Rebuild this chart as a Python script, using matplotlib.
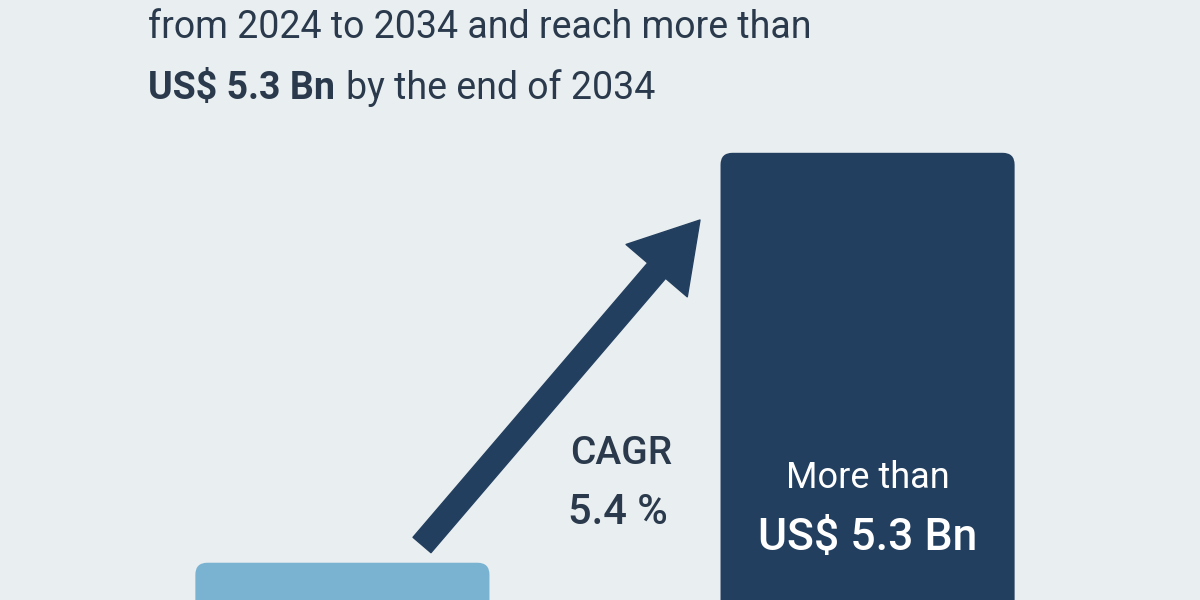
import matplotlib.pyplot as plt
from matplotlib.patches import FancyBboxPatch

plt.rcParams['font.family'] = ['Roboto', 'DejaVu Sans']

years = ['2024', '2034']
values = [3.1, 5.3]          # US$ Bn
bar_colors = ['#7ab3d2', '#233f5f']
cagr = 5.4

bg = '#e9eef0'
dark = '#2a3a4c'

fig = plt.figure(figsize=(12, 6), dpi=100, facecolor=bg)
ax = fig.add_axes([0, 0, 1, 1])
ax.set_facecolor(bg)
ax.set_xlim(-0.652, 1.633)
ax.set_ylim(2.90, 6.12)
ax.axis('off')

# keep rounded corners circular on screen
x_per_px = (1.633 + 0.652) / 1200
y_per_px = (6.12 - 2.90) / 600
w = 0.56
for i, (v, c) in enumerate(zip(values, bar_colors)):
    p = FancyBboxPatch((i - w / 2, 0), w, v,
                       boxstyle='round,pad=0,rounding_size=%f' % (12 * x_per_px),
                       mutation_aspect=y_per_px / x_per_px,
                       facecolor=c, edgecolor='none')
    ax.add_patch(p)

# title
fig.text(148 / 1200, 1 - 28 / 600, 'from 2024 to 2034 and reach more than',
         fontsize=27, color=dark, va='center', ha='left')
t1 = fig.text(148 / 1200, 1 - 88 / 600, 'US$ %.1f Bn' % values[1],
              fontsize=27, color=dark, va='center', ha='left', fontweight='bold')
fig.canvas.draw()
bb = t1.get_window_extent()
fig.text(bb.x1 / 1200 + 0.009, 1 - 88 / 600, 'by the end of 2034',
         fontsize=27, color=dark, va='center', ha='left')

# arrow
ax.annotate('', xy=(700 / 1200, 1 - 220 / 600), xycoords='axes fraction',
            xytext=(422 / 1200, 1 - 545 / 600), textcoords='axes fraction',
            arrowprops=dict(arrowstyle='simple,head_width=2.9,head_length=2.4,tail_width=0.85',
                            mutation_scale=20, color='#233f5f', shrinkA=0, shrinkB=0))

# CAGR
ax.text(621 / 1200, 1 - 453 / 600, 'CAGR', transform=ax.transAxes,
        fontsize=28, color=dark, ha='center', va='center', fontweight='medium')
ax.text(618 / 1200, 1 - 513 / 600, '%.1f %%' % cagr, transform=ax.transAxes,
        fontsize=30, color=dark, ha='center', va='center', fontweight='medium')

# bar label
ax.text(1, 1 - 478 / 600, 'More than', transform=ax.get_xaxis_transform(),
        fontsize=26, color='white', ha='center', va='center')
ax.text(1, 1 - 538 / 600, 'US$ %.1f Bn' % values[1], transform=ax.get_xaxis_transform(),
        fontsize=32, color='white', ha='center', va='center', fontweight='medium')

fig.savefig('out.png', dpi=100, facecolor=bg)
